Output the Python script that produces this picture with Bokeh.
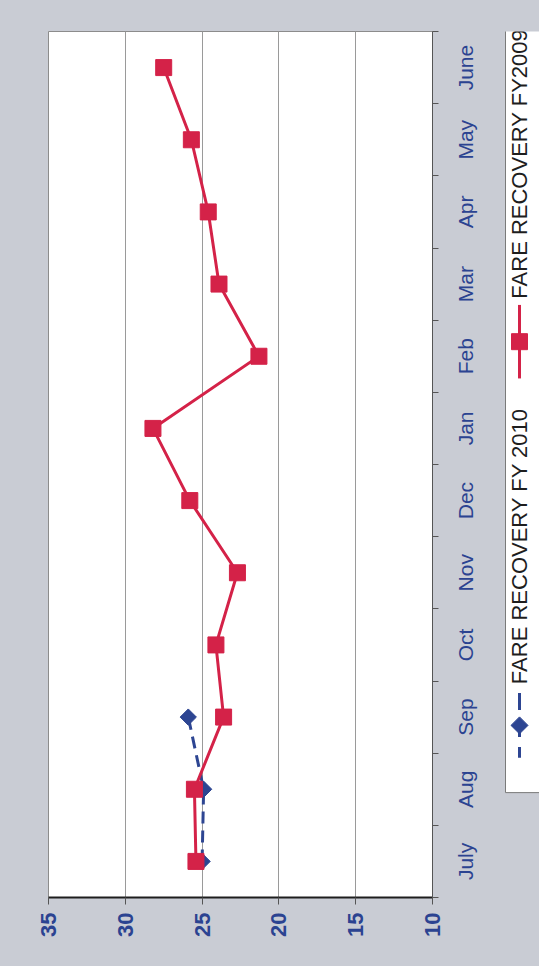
import numpy as np
from math import pi

from bokeh.plotting import figure
from bokeh.layouts import row
from bokeh.models import Range1d, FixedTicker
from bokeh.core.properties import value
from bokeh.embed import file_html
from bokeh.resources import INLINE

# Monthly fare recovery ratio (%), fiscal year July -> June
months = ["July", "Aug", "Sep", "Oct", "Nov", "Dec",
          "Jan", "Feb", "Mar", "Apr", "May", "June"]
fy2009 = [25.4, 25.5, 23.6, 24.1, 22.7, 25.8, 28.2, 21.3, 23.9, 24.6, 25.7, 27.5]
fy2010 = [25.0, 24.9, 25.9]
value_ticks = [35, 30, 25, 20, 15, 10]
grid_ticks = [30, 25, 20, 15]
series_names = ["FARE RECOVERY FY2009", "FARE RECOVERY FY 2010"]

BG = "#c9ccd4"
NAVY = "#2b4391"
RED = "#d42248"
BLUE = "#2d4592"
FONT = "Liberation Sans"

H = 966
TOP, BOTTOM = 31, 69
pos = np.arange(len(months))
month_range = Range1d(-0.5, len(months) - 0.5)

# ---- main chart: value axis along the bottom (35 -> 10), months up the right ----
p = figure(width=445, height=H,
           x_range=Range1d(35, 10), y_range=month_range,
           y_axis_location="right",
           output_backend="svg", toolbar_location=None,
           min_border_left=48, min_border_right=13,
           min_border_top=TOP, min_border_bottom=BOTTOM)
p.background_fill_color = "white"
p.border_fill_color = BG
p.outline_line_color = "#8c8c8c"
p.outline_line_width = 1

xa = p.xaxis[0]
xa.ticker = FixedTicker(ticks=value_ticks)
xa.major_label_orientation = pi / 2
xa.major_label_text_font = FONT
xa.major_label_text_font_size = "22px"
xa.major_label_text_font_style = "bold"
xa.major_label_text_color = NAVY
xa.major_label_standoff = 8
xa.axis_line_color = "#1e1e1e"
xa.axis_line_width = 2
xa.major_tick_line_color = "#555555"
xa.major_tick_out = 7
xa.major_tick_in = 0
xa.minor_tick_line_color = None

# month axis: only the tick marks between categories; the names go in the strip
ya = p.yaxis[0]
ya.ticker = FixedTicker(ticks=[], minor_ticks=list(np.arange(-0.5, len(months), 1.0)))
ya.major_label_text_font_size = "1px"
ya.major_label_standoff = 0
ya.axis_line_color = "#555555"
ya.axis_line_width = 1
ya.major_tick_out = 0
ya.major_tick_in = 0
ya.minor_tick_line_color = "#555555"
ya.minor_tick_out = 6
ya.minor_tick_in = 0

p.xgrid.ticker = FixedTicker(ticks=grid_ticks)
p.xgrid.grid_line_color = "#9a9a9a"
p.xgrid.grid_line_width = 1
p.ygrid.grid_line_color = None

# FY 2010 (dashed, diamonds) drawn under FY2009 (solid, squares)
p.line(fy2010, pos[:len(fy2010)], line_color=BLUE, line_width=3, line_dash="12 7")
p.scatter(fy2010, pos[:len(fy2010)], marker="square", angle=pi / 4, size=11.5,
          fill_color=BLUE, line_color=BLUE)
p.line(fy2009, pos, line_color=RED, line_width=3)
p.scatter(fy2009, pos, marker="square", size=16, fill_color=RED, line_color=RED)

# ---- month names, rotated and centred on each category ----
ms = figure(width=55, height=H,
            x_range=Range1d(0, 55), y_range=month_range,
            x_axis_location=None, y_axis_location=None,
            output_backend="svg", toolbar_location=None,
            min_border_left=0, min_border_right=0,
            min_border_top=TOP, min_border_bottom=BOTTOM)
ms.background_fill_color = BG
ms.border_fill_color = BG
ms.outline_line_color = None
ms.grid.visible = False
ms.text(x=[20] * len(months), y=pos, text=months, angle=pi / 2,
        text_align="center", text_baseline="middle",
        text_font=value(FONT), text_font_size="21px", text_color=NAVY)

# ---- legend strip (rotated entries, reading bottom to top) ----
lg = figure(width=39, height=H,
            x_range=Range1d(0, 39), y_range=Range1d(H, 0),
            x_axis_location=None, y_axis_location=None,
            output_backend="svg", toolbar_location=None, min_border=0)
lg.background_fill_color = BG
lg.border_fill_color = BG
lg.outline_line_color = None
lg.grid.visible = False

lg.quad(left=[5], right=[60], top=[-10], bottom=[849],
        fill_color="white", line_color="#7a7a7a", line_width=1)

lg.line([19, 19], [305, 387], line_color=RED, line_width=3)
lg.scatter([19], [346], marker="square", size=16, fill_color=RED, line_color=RED)
lg.text([19], [298], text=[series_names[0]], angle=pi / 2,
        text_align="left", text_baseline="middle",
        text_font=value(FONT), text_font_size="22px", text_color="#1e1e1e")

lg.line([19, 19], [738, 810], line_color=BLUE, line_width=3, line_dash="17 10")
lg.scatter([19], [774], marker="square", angle=pi / 4, size=12,
           fill_color=BLUE, line_color=BLUE)
lg.text([19], [728], text=[series_names[1]], angle=pi / 2,
        text_align="left", text_baseline="middle",
        text_font=value(FONT), text_font_size="22px", text_color="#1e1e1e")

layout = row(p, ms, lg, spacing=0)
layout.styles = {"background-color": BG}

with open("out.html", "w") as f:
    f.write(file_html(layout, INLINE))
